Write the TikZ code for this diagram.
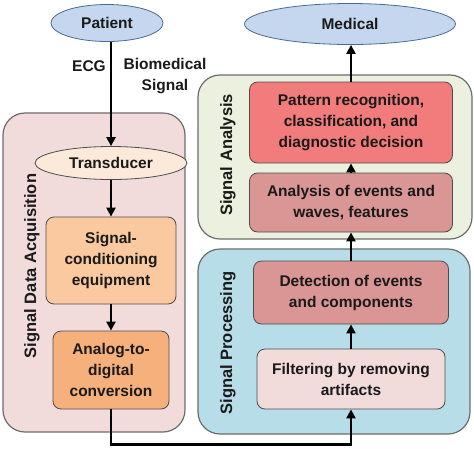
\documentclass[tikz,border=0pt]{standalone}
\usepackage{fontspec}
\setsansfont{Liberation Sans}
\usetikzlibrary{arrows.meta,shapes.geometric}
\definecolor{ovalBlue}{HTML}{C5D7EE}
\definecolor{ovalEdge}{HTML}{4A6A93}
\definecolor{acqBack}{HTML}{F2DCDB}
\definecolor{anaBack}{HTML}{EBF1DE}
\definecolor{procBack}{HTML}{B7DDE8}
\definecolor{transFill}{HTML}{FDE9D9}
\definecolor{condFill}{HTML}{FAC9A0}
\definecolor{adcFill}{HTML}{F5B07C}
\definecolor{patFill}{HTML}{F27C7C}
\definecolor{roseFill}{HTML}{D99694}
\definecolor{filtFill}{HTML}{F2DCDB}
\definecolor{ink}{HTML}{1A1A1A}

\begin{document}
\begin{tikzpicture}[x=1pt,y=-1pt,font=\sffamily\bfseries\fontsize{15.5}{21}\selectfont,text=ink,
 >={Triangle[length=9pt,width=9pt]},
 panel/.style={draw=gray!85!black,line width=1.2pt,rounded corners=22pt},
 sidelabel/.style={rotate=90,font=\sffamily\bfseries\fontsize{16.5}{20}\selectfont},
 stepbox/.style={draw=black!70,line width=0.8pt,rounded corners=8pt,align=center,inner sep=0pt},
 oval/.style={ellipse,draw=ovalEdge,line width=0.8pt,fill=ovalBlue,inner sep=0pt},
 flow/.style={->,line width=2.8pt}]
\useasboundingbox (0,0) rectangle (474,448);
% three background panels
\draw[panel,fill=acqBack] (3,113) rectangle (185,432);
\draw[panel,fill=anaBack] (198,75) rectangle (472,239);
\draw[panel,fill=procBack] (198,249) rectangle (470,434);
\node[sidelabel] (acqlabel) at (32,266) {Signal Data Acquisition};
\node[sidelabel] (analabel) at (228,155) {Signal Analysis};
\node[sidelabel] (proclabel) at (228,343) {Signal Processing};
% source and sink
\node[oval,minimum width=112pt,minimum height=37pt] (patient) at (107,23) {Patient};
\node[oval,minimum width=211pt,minimum height=41pt] (medical) at (350,24) {Medical};
\node (ecg) at (89,66) {ECG};
\node[align=center] (biosignal) at (165,76) {Biomedical\\Signal};
% acquisition chain
\node[ellipse,draw=black!70,line width=0.8pt,fill=transFill,minimum width=152pt,minimum height=33pt,inner sep=0pt] (transducer) at (111,163) {Transducer};
\node[stepbox,fill=condFill,minimum width=130pt,minimum height=87pt] (conditioning) at (111,260.5) {Signal-\\conditioning\\equipment};
\node[stepbox,fill=adcFill,minimum width=116pt,minimum height=78pt] (adc) at (111,370) {Analog-to-\\digital\\conversion};
% processing and analysis chain
\node[stepbox,fill=filtFill,minimum width=188pt,minimum height=60pt] (filtering) at (351,379) {Filtering by removing\\artifacts};
\node[stepbox,fill=roseFill,minimum width=195pt,minimum height=63pt] (detection) at (351,292.5) {Detection of events\\and components};
\node[stepbox,fill=roseFill,minimum width=203pt,minimum height=59pt] (events) at (351,202.5) {Analysis of events and\\waves, features};
\node[stepbox,fill=patFill,minimum width=203pt,minimum height=81pt] (pattern) at (351,122.5) {Pattern recognition,\\classification, and\\diagnostic decision};
% arrows
\draw[flow] (patient.south -| transducer.north) -- (transducer.north);
\draw[flow] (transducer) -- (conditioning);
\draw[flow] (conditioning) -- (adc);
\draw[flow] (adc.south) -- ++(0,35) -| (filtering.south);
\draw[flow] (filtering) -- (detection);
\draw[flow] (detection) -- (events);
\draw[flow] (events) -- (pattern);
\draw[flow] (pattern.north) -- (pattern.north |- medical.south);
\end{tikzpicture}
\end{document}
